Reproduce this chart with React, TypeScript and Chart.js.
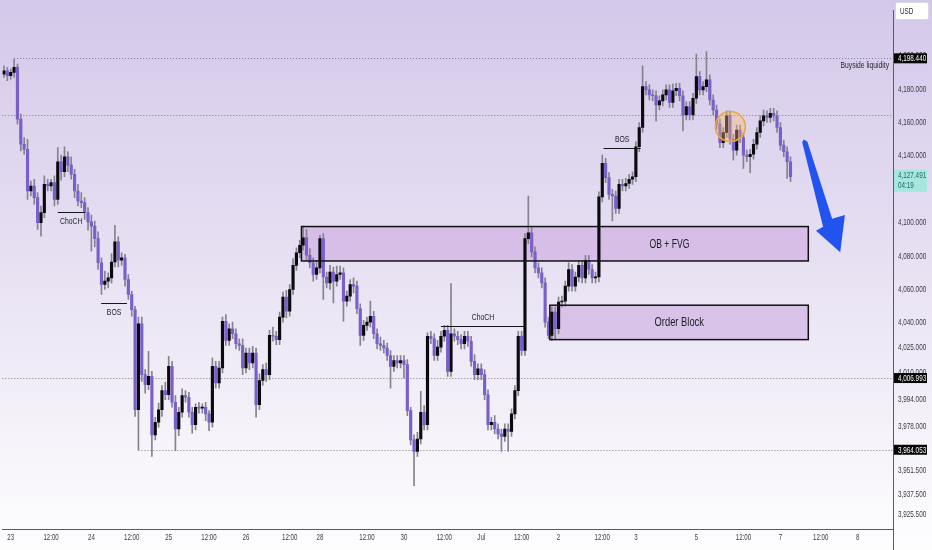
import React, { useEffect, useRef } from 'react';
import { Chart, registerables } from 'chart.js';

Chart.register(...registerables);

// ---------- data ----------
const firstOpen = 4189;
const closes = [
  4191, 4188, 4190, 4193, 4162, 4147, 4144, 4119, 4122, 4115,
  4100, 4106, 4123, 4122, 4124, 4114, 4136.5, 4130.5, 4139.5, 4134.5,
  4129, 4119, 4113, 4112, 4106, 4100.5, 4098, 4090.5, 4076, 4063,
  4065, 4067, 4076.5, 4088.5, 4077.5, 4079, 4066, 4057, 4048, 3988,
  4039.5, 4009, 4003, 4008, 3973, 3980.5, 3988, 3999.5, 3997, 4014,
  3992.5, 3976.5, 3986.5, 3996.5, 3995.5, 3986.5, 3979, 3989.5, 3989, 3989.5,
  3985.5, 3980.5, 4014, 4004, 4013, 4041, 4029.5, 4036.5, 4033.5, 4027.5,
  4026.5, 4013, 4022, 4016, 4022, 3991, 4005.5, 4012, 4009, 4032.5,
  4032, 4030, 4043.5, 4055.5, 4047, 4060, 4074.5, 4082, 4086.5, 4091,
  4080.5, 4076, 4069, 4073, 4090.5, 4067.5, 4064, 4070.5, 4065, 4069,
  4070, 4053, 4056, 4063, 4062, 4048.5, 4032.5, 4038.5, 4040.5, 4044,
  4033.5, 4027.5, 4026.5, 4025, 4020.5, 4014, 4017.5, 4016, 4017.5, 4015,
  3987.5, 3970, 3963, 3970.5, 3986.5, 3979, 4032, 4030.5, 4020.5, 4025.5,
  4032, 4035.5, 4011, 4033.5, 4032, 4030, 4027.5, 4032, 4029, 4017,
  4009, 4012.5, 4009, 3997, 3979, 3980.5, 3976.5, 3973.5, 3972, 3976.5,
  3975, 3985.5, 3999.5, 4032, 4023.5, 4090.5, 4094, 4082.5, 4073, 4070,
  4064, 4040.5, 4032.5, 4046.5, 4036.5, 4052.5, 4053, 4062, 4072, 4062,
  4067.5, 4074.5, 4067, 4077.5, 4072, 4067, 4067.5, 4115.5, 4135.5, 4127,
  4117, 4116, 4108.5, 4123, 4122, 4123.5, 4126, 4127.5, 4145.5, 4157,
  4181.5, 4179.5, 4176.5, 4176, 4170.5, 4173, 4176.5, 4179.5, 4172, 4179,
  4180.5, 4176, 4164.5, 4169.5, 4164.5, 4174.5, 4187.5, 4179.5, 4181.5, 4185.5,
  4173.5, 4167.5, 4159, 4148, 4154, 4164, 4150, 4143.5, 4155.5, 4151,
  4140.5, 4139.5, 4141, 4147, 4154, 4161, 4164, 4163, 4165.5, 4164,
  4157, 4146.5, 4142.5, 4136.5, 4127.5,
];
const upperWicks = [
  3, 2, 2, 5, 2, 3, 4, 6, 3, 4,
  3, 4, 5, 3, 2, 4, 8.5, 4, 6, 3,
  5, 3, 4, 5, 3, 3, 4, 3, 4, 3,
  6, 3, 5, 10, 3, 3, 2, 3, 2, 2,
  4, 4, 3, 15, 3, 3, 4, 3, 5, 6,
  3, 4, 3, 4, 3, 3, 3, 2, 3, 2,
  3, 2, 5, 3, 4, 2.5, 4, 3, 4, 3,
  3, 4, 3, 3, 4, 3, 4, 3, 4, 3,
  5, 3, 3, 3, 4, 3, 4, 3, 3, 7,
  5, 4, 3, 4, 2, 3, 3, 4, 3, 5,
  4, 3, 3, 3, 4, 3, 3, 3, 3, 9,
  3, 3, 4, 3, 3, 3, 3, 3, 3, 3,
  3, 2, 3, 4, 12.5, 4, 2, 3, 3, 4,
  3, 3, 3, 30, 3, 3, 3, 3, 3, 3,
  4, 3, 3, 3, 3, 3, 4, 3, 3, 3,
  3, 3, 3, 3, 3, 3, 22, 3, 3, 3,
  3, 3, 3, 3, 3, 3, 3, 3, 4, 3,
  3, 3, 3, 3, 3, 3, 3, 3, 5, 3,
  3, 3, 3, 3, 3, 3, 3, 3, 3, 3,
  12.5, 3, 3, 3, 3, 3, 3, 3, 3, 4,
  3, 3, 3, 3, 3, 3, 13.5, 3, 3, 17,
  3, 3, 3, 3, 3, 3, 3, 3, 3, 3,
  3, 3, 3, 3, 3, 3, 3.5, 3, 3, 3,
  3, 3, 3, 3, 3,
];
const lowerWicks = [
  2, 3, 2, 3, 3, 4, 3, 5, 3, 4,
  4, 8, 3, 3, 3, 4, 3, 5, 3, 4,
  3, 4, 3, 3, 4, 5, 15, 5, 4, 6,
  3, 4, 3, 3, 4, 3, 4, 3, 4, 4,
  24, 4, 5, 3, 13, 3, 3, 4, 3, 3,
  3, 13, 4, 3, 3, 3, 5, 3, 3, 3,
  4, 5, 3, 3, 3, 3, 3, 3, 3, 3,
  3, 4, 3, 4, 3, 7.5, 3, 3, 4, 3,
  3, 3, 3, 3, 4, 3, 3, 3, 3, 3,
  3, 3, 4, 3, 3, 13.5, 3, 4, 13, 3,
  3, 12, 3, 3, 4, 3, 6, 3, 3, 3,
  3, 3, 3, 3, 3, 13, 3, 3, 3, 8,
  3, 3, 20.5, 3, 3, 3, 3, 3, 3, 3,
  3, 3, 3, 3, 3, 3, 3, 3, 3, 3,
  3, 3, 3, 3, 3, 3, 3, 3, 9, 3,
  12, 3, 3, 3, 3, 3, 3, 3, 3, 3,
  3, 3, 2, 3, 6, 3, 3, 3, 3, 3,
  3, 3, 3, 3, 3, 3, 3, 3, 3, 3,
  3, 15, 3, 3, 3, 3, 3, 3, 3, 3,
  3, 3, 3, 3, 9.5, 3, 3, 3, 3, 3,
  3, 3, 9.5, 3, 3, 3, 3, 3, 3, 3,
  3, 3, 3, 3, 3, 3, 3, 6, 3, 3,
  8, 3, 9.5, 3, 3, 3, 3, 3, 3, 3,
  3, 3, 3, 10, 3,
];

const slotCount = 265;
const dateTickIdx = [2, 14, 26, 38, 49, 61, 72, 85, 94, 108, 119, 131, 142, 154, 165, 178, 188, 206, 220, 231, 243, 254];
const dateTickText = ['23', '12:00', '24', '12:00', '25', '12:00', '26', '12:00', '28', '12:00', '30', '12:00', 'Jul', '12:00', '2', '12:00', '3', '5', '12:00', '7', '12:00', '8'];
const priceTicks = [4200, 4180, 4160, 4140, 4100, 4080, 4060, 4040, 4025, 4010, 3994, 3978, 3951.5, 3937.5, 3925.5];
const yMin = 3916.6;
const yMax = 4227.2;

const buysideLevel = 4198.44;
const midLevel = 4164.7;
const equalLevel = 4006.993;
const sellsideLevel = 3964.053;
const lastPrice = 4127.491;
const countdown = '04:19';

const obFvg = { from: 88.5, to: 239.3, top: 4097.7, bottom: 4077.1, textAt: 198, label: 'OB + FVG', size: 12 };
const orderBlock = { from: 162.4, to: 239.3, top: 4050.6, bottom: 4030, textAt: 200.9, label: 'Order Block', size: 13 };
const structureMarks = [
  { label: 'ChoCH', from: 16, to: 24, level: 4106.5, below: true },
  { label: 'BOS', from: 28.9, to: 36.6, level: 4051.8, below: true },
  { label: 'ChoCH', from: 130, to: 155, level: 4038.3, below: false },
  { label: 'BOS', from: 178.4, to: 189.4, level: 4144.7, below: false },
];
const circleMark = { at: 216.1, level: 4157.6 };
const arrowPts = [
  [237.9, 4149.8], [239.0, 4148.6], [246.4, 4102.3], [250.2, 4104.6],
  [248.8, 4082.3], [241.6, 4095.2], [243.7, 4097.6], [237.5, 4148.0],
];

// ---------- helpers ----------
const FONT = "'Liberation Sans', Arial, sans-serif";
const SX = 0.72; // the reference's text is horizontally condensed
const fmt = (v: number) => v.toLocaleString('en-US', { minimumFractionDigits: 3, maximumFractionDigits: 3 });

const opens = closes.map((c, i) => (i === 0 ? firstOpen : closes[i - 1]));
const highs = closes.map((c, i) => Math.max(opens[i], c) + upperWicks[i]);
const lows = closes.map((c, i) => Math.min(opens[i], c) - lowerWicks[i]);
const labels = Array.from({ length: slotCount }, (_, i) => {
  const k = dateTickIdx.indexOf(i);
  return k >= 0 ? dateTickText[k] : '';
});

const BULL = '#0b0b0f';
const BEAR = '#7a5fcb';
const WICK = '#85838f';

function ctext(ctx: any, text: string, x: number, y: number, size: number, align: string, color: string) {
  ctx.save();
  ctx.font = `${size}px ${FONT}`;
  ctx.fillStyle = color;
  ctx.textBaseline = 'middle';
  ctx.textAlign = 'left';
  const w = ctx.measureText(text).width * SX;
  const left = align === 'center' ? x - w / 2 : align === 'right' ? x - w : x;
  ctx.translate(left, y);
  ctx.scale(SX, 1);
  ctx.fillText(text, 0, 0);
  ctx.restore();
}

const bgPlugin = {
  id: 'bgGrad',
  beforeDraw(chart: any) {
    const { ctx, width, height } = chart;
    const g = ctx.createLinearGradient(0, 0, 0, height);
    g.addColorStop(0, '#d4c8ea');
    g.addColorStop(0.45, '#e6dff2');
    g.addColorStop(0.8, '#f6f3fa');
    g.addColorStop(1, '#fdfdfe');
    ctx.save();
    ctx.fillStyle = g;
    ctx.fillRect(0, 0, width, height);
    ctx.restore();
  },
};

// draws the axis tick labels condensed, like the reference
const condensePlugin = {
  id: 'condenseTicks',
  afterLayout(chart: any) {
    for (const id of ['x', 'y']) {
      const s = chart.scales[id];
      if (!s || s.__condensed) continue;
      const orig = s.drawLabels;
      s.drawLabels = function (area: any) {
        const ctx = this.ctx;
        const rot = ctx.rotate;
        ctx.rotate = function (a: number) {
          rot.call(this, a);
          this.scale(SX, 1);
        };
        try {
          orig.call(this, area);
        } finally {
          ctx.rotate = rot;
        }
      };
      s.__condensed = true;
    }
  },
};

function dotted(ctx: any, x1: number, x2: number, y: number) {
  ctx.save();
  ctx.strokeStyle = '#7d7d88';
  ctx.lineWidth = 1;
  ctx.setLineDash([1, 2]);
  ctx.beginPath();
  ctx.moveTo(x1, Math.round(y) + 0.5);
  ctx.lineTo(x2, Math.round(y) + 0.5);
  ctx.stroke();
  ctx.restore();
}

const marksPlugin = {
  id: 'marks',
  beforeDatasetsDraw(chart: any) {
    const { ctx, chartArea } = chart;
    const xs = chart.scales.x;
    const ys = chart.scales.y;
    const R = chartArea.right;
    dotted(ctx, xs.getPixelForValue(3), R, ys.getPixelForValue(buysideLevel));
    dotted(ctx, chartArea.left, R, ys.getPixelForValue(midLevel));
    dotted(ctx, chartArea.left, R, ys.getPixelForValue(equalLevel));
    dotted(ctx, xs.getPixelForValue(40), R, ys.getPixelForValue(sellsideLevel));

    for (const b of [obFvg, orderBlock]) {
      const x1 = xs.getPixelForValue(b.from);
      const x2 = xs.getPixelForValue(b.to);
      const y1 = ys.getPixelForValue(b.top);
      const y2 = ys.getPixelForValue(b.bottom);
      ctx.save();
      ctx.fillStyle = 'rgba(196, 150, 218, 0.45)';
      ctx.fillRect(x1, y1, x2 - x1, y2 - y1);
      ctx.restore();
    }
  },
  afterDatasetsDraw(chart: any) {
    const { ctx } = chart;
    const xs = chart.scales.x;
    const ys = chart.scales.y;

    for (const b of [obFvg, orderBlock]) {
      const x1 = xs.getPixelForValue(b.from);
      const x2 = xs.getPixelForValue(b.to);
      const y1 = ys.getPixelForValue(b.top);
      const y2 = ys.getPixelForValue(b.bottom);
      ctx.save();
      ctx.strokeStyle = '#111';
      ctx.lineWidth = 1.5;
      ctx.strokeRect(x1, y1, x2 - x1, y2 - y1);
      ctx.restore();
      ctext(ctx, b.label, xs.getPixelForValue(b.textAt), (y1 + y2) / 2 + 0.5, b.size, 'center', '#1c1c22');
    }

    for (const m of structureMarks) {
      const x1 = xs.getPixelForValue(m.from);
      const x2 = xs.getPixelForValue(m.to);
      const y = Math.round(ys.getPixelForValue(m.level)) + 0.5;
      ctx.save();
      ctx.strokeStyle = '#15151a';
      ctx.lineWidth = 1;
      ctx.beginPath();
      ctx.moveTo(x1, y);
      ctx.lineTo(x2, y);
      ctx.stroke();
      ctx.restore();
      ctext(ctx, m.label, (x1 + x2) / 2, m.below ? y + 9 : y - 9, 9.5, 'center', '#1c1c22');
    }

    // circle
    const cx = xs.getPixelForValue(circleMark.at);
    const cy = ys.getPixelForValue(circleMark.level);
    ctx.save();
    ctx.beginPath();
    ctx.arc(cx, cy, 15, 0, Math.PI * 2);
    ctx.fillStyle = 'rgba(250, 185, 100, 0.35)';
    ctx.fill();
    ctx.strokeStyle = '#f0a33a';
    ctx.lineWidth = 1.5;
    ctx.stroke();
    ctx.restore();

    // arrow
    ctx.save();
    ctx.beginPath();
    arrowPts.forEach(([i, v], k) => {
      const px = xs.getPixelForValue(i);
      const py = ys.getPixelForValue(v);
      if (k === 0) ctx.moveTo(px, py);
      else ctx.lineTo(px, py);
    });
    ctx.closePath();
    ctx.fillStyle = '#2353ee';
    ctx.fill();
    ctx.restore();

    ctext(ctx, 'Buyside liquidity', chart.chartArea.right - 4, ys.getPixelForValue(buysideLevel) + 7, 9.4, 'right', '#26262c');
  },
  afterDraw(chart: any) {
    const { ctx, chartArea, height } = chart;
    const ys = chart.scales.y;
    const R = chartArea.right;
    ctx.save();
    ctx.strokeStyle = '#5a5a62';
    ctx.lineWidth = 1;
    ctx.beginPath();
    ctx.moveTo(Math.round(R) + 0.5, chartArea.bottom);
    ctx.lineTo(Math.round(R) + 0.5, height);
    ctx.stroke();
    ctx.restore();

    const box = (v: number) => {
      const y = ys.getPixelForValue(v);
      ctx.save();
      ctx.fillStyle = '#050505';
      ctx.fillRect(R + 1, y - 5, 33, 10);
      ctx.restore();
      ctext(ctx, fmt(v), R + 5, y + 0.5, 8.8, 'left', '#ffffff');
    };
    box(buysideLevel);
    box(equalLevel);
    box(sellsideLevel);

    const ly = ys.getPixelForValue(lastPrice);
    ctx.save();
    ctx.fillStyle = '#a6e6df';
    ctx.fillRect(R + 1, ly - 7, 33, 22);
    ctx.restore();
    ctext(ctx, fmt(lastPrice), R + 5, ly - 1, 8.8, 'left', '#1e6f66');
    ctext(ctx, countdown, R + 5, ly + 9, 8.8, 'left', '#1e6f66');

    // USD box
    ctx.save();
    ctx.fillStyle = '#ffffff';
    ctx.strokeStyle = '#d8d8de';
    ctx.beginPath();
    (ctx as any).roundRect(R + 2.5, 2.5, 33, 17, 2);
    ctx.fill();
    ctx.stroke();
    ctx.restore();
    ctext(ctx, 'USD', R + 7, 11.5, 8.8, 'left', '#2a2a30');
  },
};

export default function App() {
  const ref = useRef<HTMLCanvasElement | null>(null);
  useEffect(() => {
    if (!ref.current) return;
    const bodyData = closes.map((c, i) => [Math.min(opens[i], c), Math.max(opens[i], c)]);
    const wickData = closes.map((c, i) => [lows[i], highs[i]]);
    const bodyColors = closes.map((c, i) => (c >= opens[i] ? BULL : BEAR));
    const chart = new Chart(ref.current, {
      type: 'bar',
      data: {
        labels,
        datasets: [
          {
            label: 'wicks',
            data: wickData as any,
            backgroundColor: WICK,
            barThickness: 1,
            grouped: false,
            order: 2,
          } as any,
          {
            label: 'bodies',
            data: bodyData as any,
            backgroundColor: bodyColors,
            barThickness: 2.5,
            minBarLength: 1,
            grouped: false,
            order: 1,
          } as any,
        ],
      },
      options: {
        responsive: true,
        maintainAspectRatio: false,
        animation: false,
        events: [],
        layout: { padding: 0 },
        plugins: { legend: { display: false }, tooltip: { enabled: false } },
        scales: {
          x: {
            type: 'category',
            offset: true,
            grid: { display: false, drawTicks: false },
            border: { display: true, color: '#5a5a62', width: 1 },
            ticks: {
              autoSkip: false,
              maxRotation: 0,
              minRotation: 0,
              padding: 4,
              color: '#3a3a42',
              font: { family: FONT, size: 8.5 },
            },
            afterFit(scale: any) {
              scale.height = 21;
            },
          },
          y: {
            type: 'linear',
            position: 'right',
            min: yMin,
            max: yMax,
            grid: { display: false, drawTicks: false },
            border: { display: true, color: '#5a5a62', width: 1 },
            afterBuildTicks(scale: any) {
              scale.ticks = priceTicks.map((v) => ({ value: v }));
            },
            ticks: {
              padding: 5,
              color: '#3a3a42',
              font: { family: FONT, size: 8.8 },
              callback: (v: any) => fmt(Number(v)),
            },
            afterFit(scale: any) {
              scale.width = 39;
            },
          },
        },
      },
      plugins: [bgPlugin, condensePlugin, marksPlugin],
    });
    return () => chart.destroy();
  }, []);
  return (
    <div style={{ position: 'fixed', left: 0, top: 0, width: 932, height: 550 }}>
      <canvas ref={ref} />
    </div>
  );
}
